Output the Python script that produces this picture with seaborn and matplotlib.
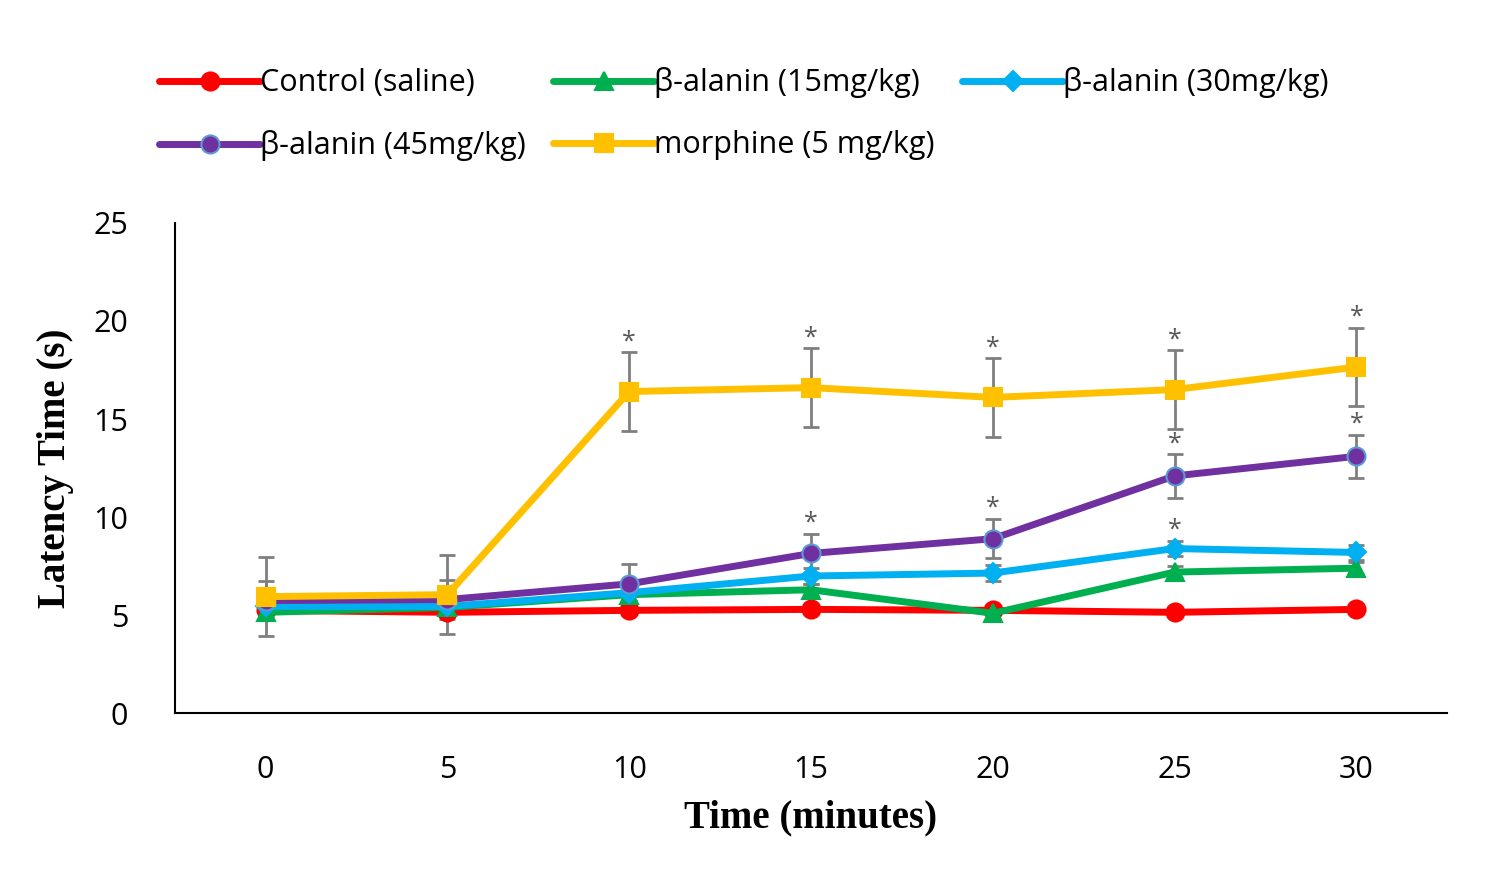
import pandas as pd
import matplotlib.pyplot as plt
import seaborn as sns

time = [0, 5, 10, 15, 20, 25, 30]
control = [5.25, 5.15, 5.25, 5.3, 5.25, 5.15, 5.3]
ala15 = [5.15, 5.4, 6.05, 6.3, 5.1, 7.2, 7.4]
ala30 = [5.45, 5.45, 6.15, 7.0, 7.15, 8.4, 8.2]
ala45 = [5.75, 5.8, 6.6, 8.15, 8.9, 12.1, 13.1]
morphine = [5.95, 6.05, 16.4, 16.6, 16.1, 16.5, 17.65]
err_control = [0.2, 0.2, 0.2, 0.2, 0.2, 0.2, 0.2]
err_ala15 = [0.3, 0.3, 0.3, 0.3, 0.3, 0.3, 0.3]
err_ala30 = [0.4, 0.4, 0.4, 0.4, 0.4, 0.4, 0.4]
err_ala45 = [1.0, 1.0, 1.0, 1.0, 1.0, 1.1, 1.1]
err_morphine = [2.0, 2.0, 2.0, 2.0, 2.0, 2.0, 2.0]
stars_morphine = [False, False, True, True, True, True, True]
stars_ala45 = [False, False, False, True, True, True, True]
stars_ala30 = [False, False, False, False, False, True, False]

series = [
    ('Control (saline)', control, err_control, None, '#ff0000', 'o', '#ff0000'),
    ('β-alanin (15mg/kg)', ala15, err_ala15, None, '#00b050', '^', '#00b050'),
    ('β-alanin (30mg/kg)', ala30, err_ala30, stars_ala30, '#00b0f0', 'D', '#00b0f0'),
    ('β-alanin (45mg/kg)', ala45, err_ala45, stars_ala45, '#7030a0', 'o', '#5b9bd5'),
    ('morphine (5 mg/kg)', morphine, err_morphine, stars_morphine, '#ffc000', 's', '#ffc000'),
]

sns.set_style('white')
plt.rcParams['font.family'] = ['Open Sans', 'DejaVu Sans']
plt.rcParams['text.color'] = 'black'
fig = plt.figure(figsize=(14.99, 8.84), dpi=100)
ax = fig.add_axes([0.117, 0.193, 0.848, 0.555])

for label, vals, errs, stars, color, marker, edge in series:
    ax.errorbar(time, vals, yerr=errs, fmt='none', ecolor='#7f7f7f',
                elinewidth=2, capsize=6, capthick=2, zorder=1)
    df = pd.DataFrame({'Time': time, 'Latency': vals})
    sns.lineplot(data=df, x='Time', y='Latency', ax=ax, color=color, lw=5,
                 marker=marker, markersize=13 if marker != 'D' else 10,
                 markerfacecolor=color, markeredgecolor=edge, markeredgewidth=1.5,
                 label=label, zorder=3)
    if stars:
        for t, v, e, s in zip(time, vals, errs, stars):
            if s:
                ax.text(t, v + e - 0.1, '*', ha='center', va='bottom',
                        fontsize=18, color='#595959')

h, l = ax.get_legend_handles_labels()
ax.get_legend().remove()
order = [0, 3, 1, 4, 2]
fig.legend([h[i] for i in order], [l[i] for i in order], ncol=3,
           loc='upper left', bbox_to_anchor=(0.088, 0.955), frameon=False,
           fontsize=22, handlelength=3.3, columnspacing=0.9, labelspacing=1.05,
           handletextpad=0.0)

ax.set_xlim(-2.48, 32.48)
ax.set_ylim(0, 25)
ax.set_xticks(time)
ax.set_yticks([0, 5, 10, 15, 20, 25])
ax.tick_params(axis='x', labelsize=22, length=0, pad=30, labelcolor='black')
ax.tick_params(axis='y', labelsize=22, length=0, pad=34, labelcolor='black')
for s in ['top', 'right']:
    ax.spines[s].set_visible(False)
for s in ['left', 'bottom']:
    ax.spines[s].set_color('black')
    ax.spines[s].set_linewidth(1.5)
ax.set_xlabel('Time (minutes)', fontsize=28, fontweight='bold', color='black',
              family='Liberation Serif', labelpad=10)
ax.set_ylabel('Latency Time (s)', fontsize=28, fontweight='bold', color='black',
              family='Liberation Serif', labelpad=14)

fig.savefig('out.png')
